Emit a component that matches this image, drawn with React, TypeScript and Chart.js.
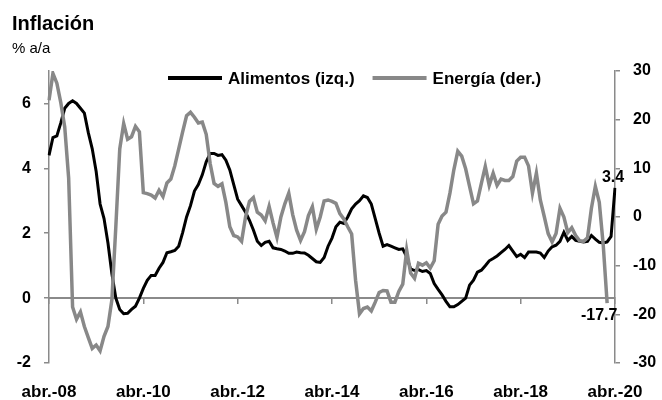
import React, { useEffect, useRef } from 'react';
import { Chart, registerables } from 'chart.js';

Chart.register(...registerables);

// ---------- Data ----------
const TITLE = 'Inflación';
const SUBTITLE = '% a/a';
const SERIES_NAMES = ['Alimentos (izq.)', 'Energía (der.)'];

const MONTH_ABBR = ['ene.', 'feb.', 'mar.', 'abr.', 'may.', 'jun.', 'jul.', 'ago.', 'sep.', 'oct.', 'nov.', 'dic.'];
const START_YEAR = 2008;
const START_MONTH = 3; // abril
const N_MONTHS = 145; // abr.-08 .. abr.-20
const TICK_EVERY = 24;
const CATEGORIES: string[] = Array.from({ length: N_MONTHS }, (_, i) => {
  const m = (START_MONTH + i) % 12;
  const y = START_YEAR + Math.floor((START_MONTH + i) / 12);
  return `${MONTH_ABBR[m]}-${String(y).slice(2)}`;
});

const LEFT_TICKS = [-2, 0, 2, 4, 6];
const LEFT_MIN = -2;
const LEFT_MAX = 7;
const RIGHT_MIN = -30;
const RIGHT_MAX = 30;
const RIGHT_STEP = 10;

// Alimentos (% a/a, eje izq.)
const ALIMENTOS: (number | null)[] = [
  4.4, 4.95, 5.0, 5.4, 5.85, 6.0, 6.08, 6.0, 5.85, 5.7,
  5.1, 4.6, 3.9, 2.9, 2.45, 1.7, 0.75, 0.0, -0.35, -0.48,
  -0.47, -0.35, -0.25, 0.0, 0.3, 0.55, 0.7, 0.7, 0.92, 1.1,
  1.4, 1.43, 1.47, 1.6, 2.02, 2.5, 2.85, 3.3, 3.5, 3.8,
  4.2, 4.46, 4.46, 4.4, 4.42, 4.25, 3.95, 3.5, 3.05, 2.85,
  2.65, 2.4, 2.1, 1.75, 1.62, 1.72, 1.75, 1.55, 1.52, 1.5,
  1.45, 1.38, 1.38, 1.42, 1.4, 1.39, 1.32, 1.22, 1.12, 1.1,
  1.25, 1.6, 1.85, 2.2, 2.34, 2.3, 2.5, 2.75, 2.9, 3.0,
  3.15, 3.1, 2.9, 2.45, 2.0, 1.6, 1.65, 1.6, 1.55, 1.5,
  1.52, 1.27, 0.9, 0.85, 0.88, 0.82, 0.85, 0.76, 0.45, 0.27,
  0.1, -0.1, -0.27, -0.27, -0.2, -0.1, 0.0, 0.4, 0.55, 0.8,
  0.86, 1.0, 1.15, 1.22, 1.3, 1.4, 1.5, 1.62, 1.45, 1.28,
  1.35, 1.25, 1.42, 1.42, 1.42, 1.39, 1.25, 1.45, 1.58, 1.63,
  1.75, 2.03, 1.78, 1.9, 1.78, 1.75, 1.73, 1.75, 1.93, 1.82,
  1.72, 1.7, 1.73, 1.9, 3.4,
];

// Energía (% a/a, eje der.)
const ENERGIA: (number | null)[] = [
  24, 29.5, 27.5, 23.5, 18.5, 8, -18.5, -21, -19.5, -22.5,
  -24.8, -27, -26.3, -27.5, -24.5, -22.5, -17, -2, 14, 19.2,
  16, 16.5, 18.6, 17.5, 5, 4.8, 4.5, 3.9, 5.5, 4.2,
  7, 7.8, 10.5, 14, 17.5, 20.8, 21.5, 20.5, 19.3, 19.5,
  17, 11, 6.9, 6.3, 6.8, 3, -2, -3.8, -4.1, -5,
  0, 3.2, 4, 1, 0.4, -0.8, 2.2, -1.2, -4.2, 0,
  2.7, 4.9, 0.5, -2.7, -4.8, -3, 0.3, 2.1, -2.5, 0,
  3.3, 3.5, 3.2, 2.8, 0.7, -0.4, -2, -3.5, -13, -19.9,
  -18.8, -18.5, -19.3, -17.5, -15.5, -15.1, -15.2, -17.5, -17.5, -15.3,
  -13.8, -6.8, -11.5, -12.6, -9.5, -9.9, -9.4, -10.5, -9, -1.5,
  0.2, 1, 4.9, 9.7, 13.5, 12.5, 9.9, 6.3, 2.7, 3.3,
  6.9, 10.4, 6.5, 9, 6.5, 7.8, 7.5, 7.5, 8.3, 11.5,
  12.3, 12.3, 10.5, 4.9, 9, 3.5, 0.1, -3.4, -5.1, -3.4,
  1.8, 0, -3.2, -2.2, -3.8, -4.9, -5, -4.3, 1.8, 6.3,
  3, -5.7, -17.7, null, null,
];

// ---------- Styles ----------
const FONT = '"Liberation Sans", Arial, Helvetica, sans-serif';
const BLACK = '#000000';
const GRAY = '#888888';
const AXIS_GRAY = '#8a8a8a';

function lastPoint(chart: any, dsIndex: number) {
  const ds = chart.data.datasets[dsIndex];
  const meta = chart.getDatasetMeta(dsIndex);
  for (let i = ds.data.length - 1; i >= 0; i--) {
    if (ds.data[i] !== null && ds.data[i] !== undefined) {
      return { el: meta.data[i], value: ds.data[i] as number };
    }
  }
  return null;
}

const headerPlugin = {
  id: 'headerPlugin',
  afterDraw(chart: any) {
    const ctx = chart.ctx as CanvasRenderingContext2D;
    ctx.save();
    ctx.fillStyle = '#000';
    ctx.textAlign = 'left';
    ctx.textBaseline = 'alphabetic';
    ctx.font = `bold 20px ${FONT}`;
    ctx.fillText(TITLE, 12, 30);
    ctx.font = `15px ${FONT}`;
    ctx.fillText(SUBTITLE, 12, 53);

    // legend
    ctx.font = `bold 17px ${FONT}`;
    let x = 168;
    const y = 78;
    chart.data.datasets.forEach((ds: any) => {
      ctx.strokeStyle = ds.borderColor;
      ctx.lineWidth = 4;
      ctx.beginPath();
      ctx.moveTo(x, y);
      ctx.lineTo(x + 54, y);
      ctx.stroke();
      ctx.fillStyle = '#000';
      ctx.fillText(ds.label, x + 60, y + 6);
      x += 60 + ctx.measureText(ds.label).width + 18;
    });

    // end-point labels
    ctx.font = `bold 16px ${FONT}`;
    ctx.textAlign = 'center';
    const a = lastPoint(chart, 0);
    if (a) {
      ctx.textBaseline = 'alphabetic';
      ctx.fillText(a.value.toFixed(1), a.el.x - 2, a.el.y - 6);
    }
    const e = lastPoint(chart, 1);
    if (e) {
      ctx.textBaseline = 'top';
      ctx.fillText(e.value.toFixed(1), e.el.x - 8, e.el.y + 4);
    }
    ctx.restore();
  },
};

export default function App() {
  const canvasRef = useRef<HTMLCanvasElement | null>(null);

  useEffect(() => {
    if (!canvasRef.current) return;
    Chart.defaults.font.family = FONT;
    const chart = new Chart(canvasRef.current, {
      type: 'line',
      data: {
        labels: CATEGORIES,
        datasets: [
          {
            label: SERIES_NAMES[0],
            data: ALIMENTOS,
            borderColor: BLACK,
            backgroundColor: BLACK,
            borderWidth: 3,
            pointRadius: 0,
            tension: 0,
            yAxisID: 'y',
            xAxisID: 'x',
            order: 1,
          },
          {
            label: SERIES_NAMES[1],
            data: ENERGIA,
            borderColor: GRAY,
            backgroundColor: GRAY,
            borderWidth: 3.5,
            pointRadius: 0,
            tension: 0,
            yAxisID: 'y1',
            xAxisID: 'x',
            order: 0,
          },
        ],
      },
      options: {
        responsive: false,
        animation: false,
        devicePixelRatio: 1,
        layout: { padding: { top: 71, left: 0, right: 0, bottom: 0 } },
        plugins: {
          legend: { display: false },
          title: { display: false },
          tooltip: { enabled: false },
        },
        scales: {
          x: {
            type: 'category',
            position: { y: 0 } as any,
            offset: false,
            border: { display: true, color: AXIS_GRAY, width: 2 },
            grid: {
              display: true,
              drawOnChartArea: false,
              drawTicks: true,
              tickLength: 5,
              lineWidth: 1.5,
              color: (c: any) => (c.index % TICK_EVERY === 0 ? AXIS_GRAY : 'rgba(0,0,0,0)'),
            },
            ticks: { display: false, autoSkip: false },
          },
          x2: {
            type: 'category',
            position: 'bottom',
            offset: false,
            border: { display: false },
            grid: { display: false, drawTicks: false },
            ticks: {
              autoSkip: false,
              maxRotation: 0,
              minRotation: 0,
              padding: 19,
              color: '#000',
              font: { size: 17, weight: 'bold' },
              callback: (_v: any, i: number) => (i % TICK_EVERY === 0 ? CATEGORIES[i] : ''),
            },
            afterFit: (s: any) => {
              s.height = 37;
            },
          },
          y: {
            type: 'linear',
            position: 'left',
            min: LEFT_MIN,
            max: LEFT_MAX,
            border: { display: true, color: AXIS_GRAY, width: 1.5 },
            grid: {
              display: true,
              drawOnChartArea: false,
              drawTicks: true,
              tickLength: 5,
              lineWidth: 1.5,
              color: AXIS_GRAY,
            },
            ticks: {
              padding: 13,
              color: '#000',
              font: { size: 16, weight: 'bold' },
            },
            afterBuildTicks: (s: any) => {
              s.ticks = LEFT_TICKS.map((v) => ({ value: v }));
            },
            afterFit: (s: any) => {
              s.width = 49;
            },
          },
          y1: {
            type: 'linear',
            position: 'right',
            min: RIGHT_MIN,
            max: RIGHT_MAX,
            border: { display: true, color: AXIS_GRAY, width: 1.5 },
            grid: {
              display: true,
              drawOnChartArea: false,
              drawTicks: true,
              tickLength: 5,
              lineWidth: 1.5,
              color: AXIS_GRAY,
            },
            ticks: {
              stepSize: RIGHT_STEP,
              padding: 13,
              color: '#000',
              font: { size: 16, weight: 'bold' },
            },
            afterFit: (s: any) => {
              s.width = 47;
            },
          },
        },
      },
      plugins: [headerPlugin],
    });
    return () => chart.destroy();
  }, []);

  return (
    <div style={{ position: 'fixed', left: 0, top: 0, width: 662, height: 400, background: '#fff' }}>
      <canvas ref={canvasRef} width={662} height={400} style={{ width: 662, height: 400, display: 'block' }} />
    </div>
  );
}
